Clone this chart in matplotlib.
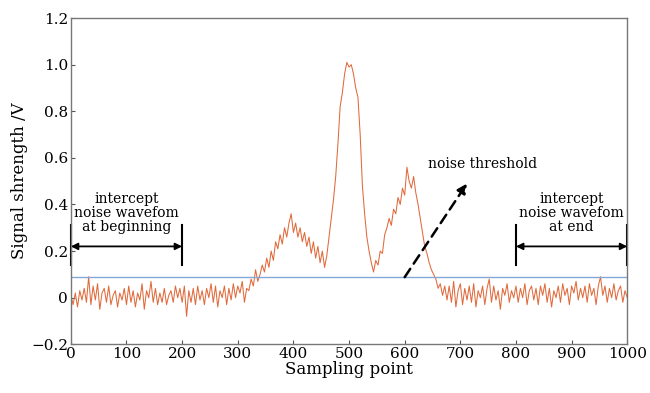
import matplotlib
matplotlib.use("Agg")
import matplotlib.pyplot as plt
import numpy as np

plt.rcParams["font.family"] = ["DejaVu Serif"]

# sampling points, every 4th sample
x_points = list(range(0, 1001, 4))

# signal strength (V)
signal = [
    # 0-36
    0.01, -0.03, 0.02, -0.04, 0.03, -0.01, 0.04, -0.02, 0.09, -0.03,
    # 40-76
    0.05, -0.01, 0.06, -0.05, 0.02, 0.04, -0.02, 0.05, -0.03, 0.01,
    # 80-116
    0.03, -0.04, 0.02, -0.01, 0.04, -0.03, 0.05, -0.02, 0.03, -0.04,
    # 120-156
    0.02, -0.01, 0.06, -0.05, 0.03, 0.00, 0.07, -0.02, 0.04, -0.03,
    # 160-196
    0.02, -0.02, 0.04, -0.03, 0.01, 0.03, -0.02, 0.05, 0.00, 0.04,
    # 200-236
    -0.02, 0.05, -0.08, 0.03, -0.02, 0.04, -0.03, 0.05, -0.01, 0.03,
    # 240-276
    -0.03, 0.04, 0.00, 0.06, -0.02, 0.05, -0.04, 0.03, 0.00, 0.05,
    # 280-316
    -0.03, 0.04, -0.01, 0.06, 0.00, 0.05, 0.02, 0.07, -0.02, 0.04,
    # 320-356
    0.03, 0.08, 0.05, 0.12, 0.07, 0.10, 0.14, 0.11, 0.17, 0.13,
    # 360-396
    0.20, 0.16, 0.24, 0.21, 0.27, 0.23, 0.30, 0.26, 0.32, 0.36,
    # 400-436
    0.28, 0.32, 0.26, 0.30, 0.24, 0.28, 0.22, 0.26, 0.19, 0.24,
    # 440-476
    0.17, 0.22, 0.15, 0.20, 0.13, 0.18, 0.26, 0.34, 0.42, 0.52,
    # 480-516
    0.66, 0.82, 0.88, 0.96, 1.01, 0.99, 1.00, 0.96, 0.90, 0.86,
    # 520-556
    0.70, 0.48, 0.36, 0.26, 0.20, 0.15, 0.11, 0.16, 0.14, 0.20,
    # 560-596
    0.19, 0.27, 0.30, 0.34, 0.31, 0.38, 0.36, 0.43, 0.40, 0.47,
    # 600-636
    0.44, 0.56, 0.50, 0.47, 0.52, 0.45, 0.40, 0.34, 0.28, 0.22,
    # 640-676
    0.19, 0.15, 0.12, 0.10, 0.08, 0.04, 0.06, 0.01, 0.05, -0.01,
    # 680-716
    0.05, -0.02, 0.07, -0.04, 0.03, 0.06, -0.03, 0.04, -0.01, 0.05,
    # 720-756
    -0.02, 0.06, -0.04, 0.03, 0.00, 0.05, -0.03, 0.04, 0.08, -0.02,
    # 760-796
    0.05, -0.01, 0.03, -0.05, 0.04, 0.01, 0.06, -0.02, 0.03, 0.00,
    # 800-836
    0.05, -0.02, 0.04, 0.00, 0.06, -0.03, 0.03, 0.05, -0.01, 0.04,
    # 840-876
    -0.03, 0.05, 0.01, 0.06, -0.02, 0.04, -0.04, 0.03, 0.00, 0.05,
    # 880-916
    -0.02, 0.06, 0.01, 0.04, -0.03, 0.05, 0.02, 0.07, -0.01, 0.04,
    # 920-956
    0.00, 0.05, -0.02, 0.06, 0.01, 0.04, -0.03, 0.05, 0.09, 0.01,
    # 960-996
    0.05, -0.02, 0.04, 0.00, 0.06, -0.01, 0.03, 0.05, -0.02, 0.03,
    # 1000
    0.00,
]

threshold = 0.088
x_ticks = [0, 100, 200, 300, 400, 500, 600, 700, 800, 900, 1000]
y_ticks = [-0.2, 0, 0.2, 0.4, 0.6, 0.8, 1.0, 1.2]
y_tick_labels = ["\u22120.2", "0", "0.2", "0.4", "0.6", "0.8", "1.0", "1.2"]

fig = plt.figure(figsize=(6.5, 3.93), dpi=100)
ax = fig.add_axes([0.109, 0.124, 0.856, 0.830])

ax.plot(x_points, signal, color="#e06a3c", linewidth=0.75)
ax.axhline(threshold, color="#86a8d6", linewidth=1.0)

# intercept ranges
for x0, x1, label in [(0, 200, "intercept\nnoise wavefom\nat beginning"),
                      (800, 1000, "intercept\nnoise wavefom\nat end")]:
    for xv in (x0, x1):
        ax.plot([xv, xv], [0.14, 0.31], color="black", linewidth=1.5,
                clip_on=False)
    ax.annotate("", xy=(x0, 0.22), xytext=(x1, 0.22),
                arrowprops=dict(arrowstyle="<|-|>", color="black", lw=1.3,
                                shrinkA=0, shrinkB=0, mutation_scale=10))
    ax.text((x0 + x1) / 2, 0.365, label, ha="center", va="center",
            fontsize=10, linespacing=1.0)

# noise threshold arrow
ax.annotate("", xy=(712, 0.49), xytext=(600, threshold),
            arrowprops=dict(arrowstyle="-|>", color="black", lw=1.8,
                            linestyle=(0, (4, 2.5)), shrinkA=0, shrinkB=0,
                            mutation_scale=14))
ax.text(642, 0.575, "noise threshold", ha="left", va="center", fontsize=10)

ax.set_xlim(0, 1000)
ax.set_ylim(-0.2, 1.2)
ax.set_xticks(x_ticks)
ax.set_yticks(y_ticks)
ax.set_yticklabels(y_tick_labels)
ax.tick_params(direction="in", length=3, labelsize=11, color="#555555", pad=2)
for sp in ax.spines.values():
    sp.set_color("#777777")
    sp.set_linewidth(1.0)

ax.set_xlabel("Sampling point", fontsize=12, labelpad=0)
ax.set_ylabel("Signal shrength /V", fontsize=12, labelpad=2)

fig.savefig("out.png", dpi=100)
